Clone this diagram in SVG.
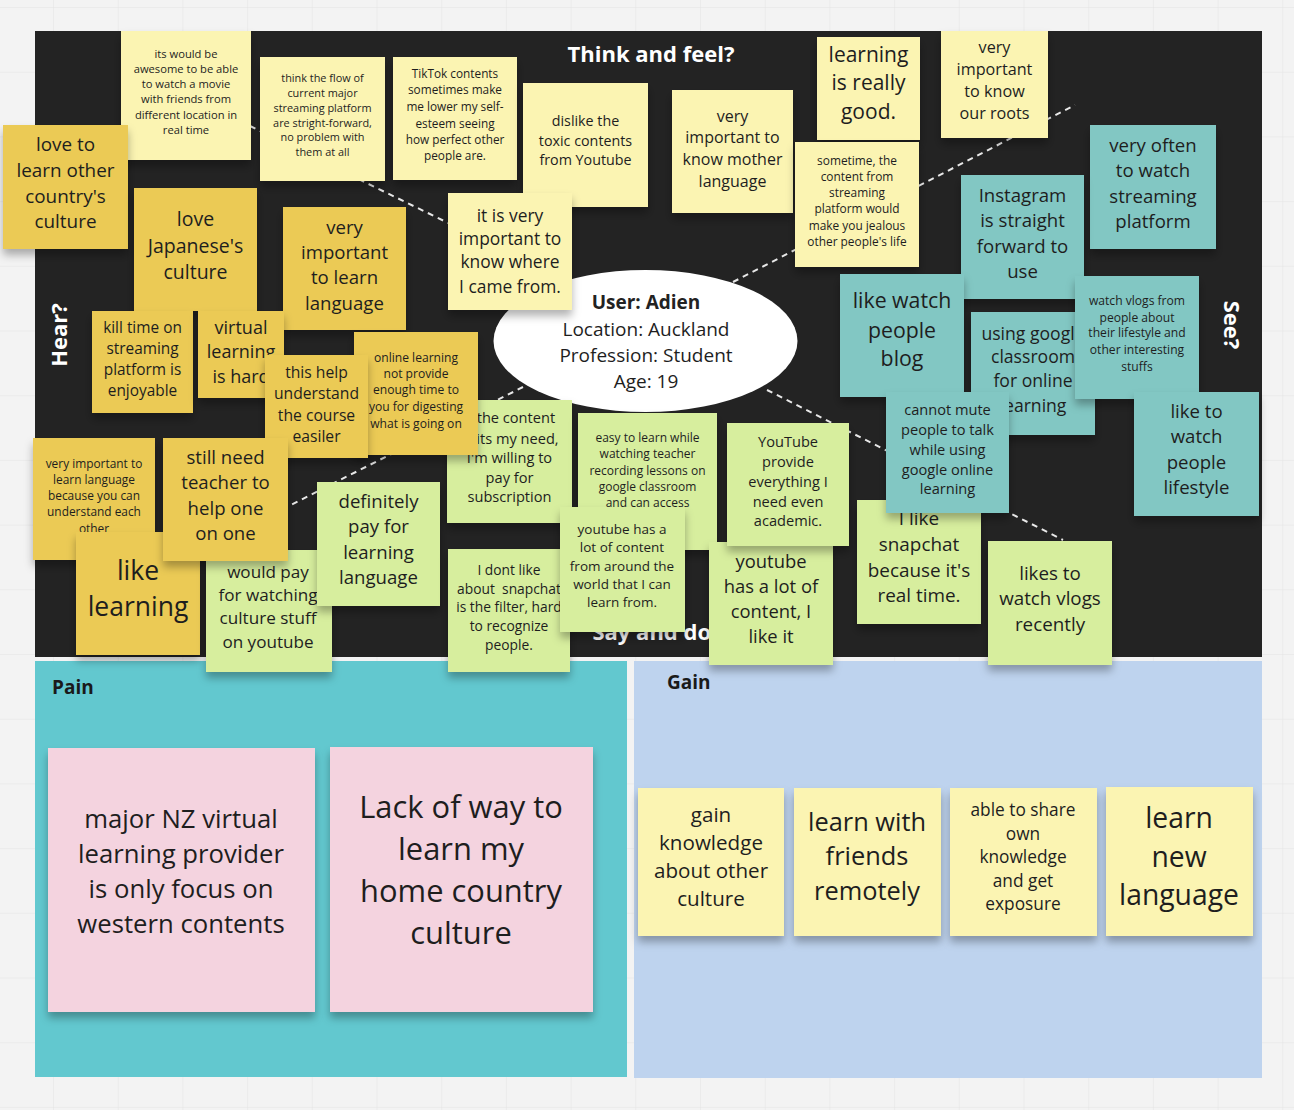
<svg xmlns="http://www.w3.org/2000/svg" width="1294" height="1110" viewBox="0 0 1294 1110">
<defs>
<pattern id="grid" x="53" y="7" width="64.7" height="64.7" patternUnits="userSpaceOnUse">
<path d="M0 0H64.7M0 0V64.7" fill="none" stroke="#e4e4e4" stroke-width="1"/>
</pattern>
<filter id="sh" x="-20%" y="-20%" width="140%" height="150%">
<feDropShadow dx="0" dy="6" stdDeviation="4" flood-color="#000" flood-opacity="0.3"/>
</filter>
</defs>
<style>
.t{font-family:"Open Sans","Noto Sans","Liberation Sans",sans-serif;fill:#1e1e1e;text-anchor:middle}
.lbl{font-family:"Open Sans","Noto Sans","Liberation Sans",sans-serif;font-weight:bold;fill:#ffffff;font-size:22px}
.hd{font-family:"Open Sans","Noto Sans","Liberation Sans",sans-serif;font-weight:bold;fill:#1a1a1a;font-size:19px}
.s{filter:url(#sh)}
.ly{fill:#fbf4b2}
.gd{fill:#ebca55}
.gr{fill:#d7ee9e}
.tl{fill:#82c7c3}
.pk{fill:#f4d3df}
.cn{stroke:#e8e8e8;stroke-width:2;stroke-dasharray:6 5;fill:none}
</style>
<rect x="0" y="0" width="1294" height="1110" fill="#f3f3f3"/>
<rect x="0" y="0" width="1294" height="1110" fill="url(#grid)"/>
<g id="panels">
<rect x="35" y="31" width="1227" height="626" fill="#232323"/>
<rect x="35" y="661" width="592" height="416" fill="#62c8cf"/>
<rect x="634" y="661" width="628" height="417" fill="#bed3ee"/>
</g>
<g id="labels">
<text class="lbl" x="651" y="62" text-anchor="middle">Think and feel?</text>
<text class="lbl" transform="translate(67,335) rotate(-90)" text-anchor="middle">Hear?</text>
<text class="lbl" transform="translate(1224,325) rotate(90)" text-anchor="middle">See?</text>
<text class="lbl" x="657" y="640" text-anchor="middle">Say and do?</text>
<text class="hd" x="52" y="694">Pain</text>
<text class="hd" x="667" y="689">Gain</text>
</g>
<g id="connectors">
<line class="cn" x1="250" y1="126" x2="530" y2="263"/>
<line class="cn" x1="733" y1="282" x2="1075" y2="105"/>
<line class="cn" x1="523" y1="387" x2="285" y2="508"/>
<line class="cn" x1="767" y1="390" x2="1063" y2="540"/>
</g>
<g id="user">
<ellipse cx="645.5" cy="341" rx="152" ry="71" fill="#ffffff"/>
<text class="t" font-size="19" fill="#333"><tspan x="646" y="309" font-weight="bold" fill="#222">User: Adien</tspan><tspan x="646" y="336">Location: Auckland</tspan><tspan x="646" y="362">Profession: Student</tspan><tspan x="646" y="388">Age: 19</tspan></text>
</g>
<g id="n1"><rect class="s ly" x="121" y="31" width="130" height="129"/><text class="t" font-size="11.2"><tspan x="186" y="58.4">its would be</tspan><tspan x="186" y="73.4">awesome to be able</tspan><tspan x="186" y="88.4">to watch a movie</tspan><tspan x="186" y="103.4">with friends from</tspan><tspan x="186" y="119.4">different location in</tspan><tspan x="186" y="134.4">real time</tspan></text></g>
<g id="n2"><rect class="s ly" x="260" y="57" width="125" height="124"/><text class="t" font-size="10.9"><tspan x="322.5" y="82">think the flow of</tspan><tspan x="322.5" y="97">current major</tspan><tspan x="322.5" y="112">streaming platform</tspan><tspan x="322.5" y="127">are stright-forward,</tspan><tspan x="322.5" y="141">no problem with</tspan><tspan x="322.5" y="156">them at all</tspan></text></g>
<g id="n3"><rect class="s ly" x="393" y="57" width="124" height="123"/><text class="t" font-size="11.8"><tspan x="455" y="77.5">TikTok contents</tspan><tspan x="455" y="93.5">sometimes make</tspan><tspan x="455" y="110.5">me lower my self-</tspan><tspan x="455" y="127.5">esteem seeing</tspan><tspan x="455" y="143.5">how perfect other</tspan><tspan x="455" y="159.5">people are.</tspan></text></g>
<g id="n4"><rect class="s ly" x="523" y="83" width="125" height="124"/><text class="t" font-size="14.3"><tspan x="585.5" y="126">dislike the</tspan><tspan x="585.5" y="146">toxic contents</tspan><tspan x="585.5" y="165">from Youtube</tspan></text></g>
<g id="n5"><rect class="s ly" x="672" y="90" width="121" height="123"/><text class="t" font-size="16"><tspan x="732.5" y="122">very</tspan><tspan x="732.5" y="143">important to</tspan><tspan x="732.5" y="165">know mother</tspan><tspan x="732.5" y="187">language</tspan></text></g>
<g id="n6"><rect class="s ly" x="448" y="193" width="124" height="117"/><text class="t" font-size="17.4"><tspan x="510" y="222">it is very</tspan><tspan x="510" y="245">important to</tspan><tspan x="510" y="268">know where</tspan><tspan x="510" y="293">I came from.</tspan></text></g>
<g id="n7"><rect class="s ly" x="817" y="37" width="103" height="103"/><text class="t" font-size="21"><tspan x="868.5" y="62">learning</tspan><tspan x="868.5" y="90">is really</tspan><tspan x="868.5" y="119">good.</tspan></text></g>
<g id="n8"><rect class="s ly" x="941" y="31" width="107" height="107"/><text class="t" font-size="16.2"><tspan x="994.5" y="53">very</tspan><tspan x="994.5" y="75">important</tspan><tspan x="994.5" y="97">to know</tspan><tspan x="994.5" y="119">our roots</tspan></text></g>
<g id="n9"><rect class="s ly" x="795" y="142" width="124" height="125"/><text class="t" font-size="11.9"><tspan x="857" y="164.5">sometime, the</tspan><tspan x="857" y="180.5">content from</tspan><tspan x="857" y="196.5">streaming</tspan><tspan x="857" y="212.5">platform would</tspan><tspan x="857" y="229.5">make you jealous</tspan><tspan x="857" y="245.5">other people's life</tspan></text></g>
<g id="n10"><rect class="s tl" x="1090" y="125" width="126" height="124"/><text class="t" font-size="18.6"><tspan x="1153" y="151.5">very often</tspan><tspan x="1153" y="176.5">to watch</tspan><tspan x="1153" y="202.5">streaming</tspan><tspan x="1153" y="227.5">platform</tspan></text></g>
<g id="n11"><rect class="s tl" x="961" y="175" width="123" height="124"/><text class="t" font-size="18.6"><tspan x="1022.5" y="201.5">Instagram</tspan><tspan x="1022.5" y="226.5">is straight</tspan><tspan x="1022.5" y="252.5">forward to</tspan><tspan x="1022.5" y="277.5">use</tspan></text></g>
<g id="n12"><rect class="s tl" x="840" y="274" width="124" height="123"/><text class="t" font-size="21.3"><tspan x="902" y="308">like watch</tspan><tspan x="902" y="338">people</tspan><tspan x="902" y="366">blog</tspan></text></g>
<g id="n13"><rect class="s tl" x="971" y="312" width="124" height="123"/><text class="t" font-size="17.6"><tspan x="1033" y="340">using google</tspan><tspan x="1033" y="363">classroom</tspan><tspan x="1033" y="387">for online</tspan><tspan x="1033" y="412">learning</tspan></text></g>
<g id="n14"><rect class="s tl" x="1075" y="276" width="124" height="123"/><text class="t" font-size="12.1"><tspan x="1137" y="304.5">watch vlogs from</tspan><tspan x="1137" y="321.5">people about</tspan><tspan x="1137" y="336.5">their lifestyle and</tspan><tspan x="1137" y="353.5">other interesting</tspan><tspan x="1137" y="370.5">stuffs</tspan></text></g>
<g id="n16"><rect class="s tl" x="1134" y="392" width="125" height="124"/><text class="t" font-size="18.6"><tspan x="1196.5" y="417.5">like to</tspan><tspan x="1196.5" y="442.5">watch</tspan><tspan x="1196.5" y="468.5">people</tspan><tspan x="1196.5" y="493.5">lifestyle</tspan></text></g>
<g id="n35"><rect class="s gr" x="857" y="500" width="124" height="124"/><text class="t" font-size="18.9"><tspan x="919" y="524.5">I like</tspan><tspan x="919" y="550.5">snapchat</tspan><tspan x="919" y="576.5">because it's</tspan><tspan x="919" y="601.5">real time.</tspan></text></g>
<g id="n15"><rect class="s tl" x="886" y="392" width="123" height="121"/><text class="t" font-size="14.6"><tspan x="947.5" y="414.5">cannot mute</tspan><tspan x="947.5" y="434.5">people to talk</tspan><tspan x="947.5" y="454.5">while using</tspan><tspan x="947.5" y="474.5">google online</tspan><tspan x="947.5" y="493.5">learning</tspan></text></g>
<g id="n36"><rect class="s gr" x="988" y="541" width="124" height="124"/><text class="t" font-size="18.8"><tspan x="1050" y="579.5">likes to</tspan><tspan x="1050" y="604.5">watch vlogs</tspan><tspan x="1050" y="630.5">recently</tspan></text></g>
<g id="n17"><rect class="s gd" x="3" y="125" width="125" height="124"/><text class="t" font-size="18.9"><tspan x="65.5" y="150.5">love to</tspan><tspan x="65.5" y="176.5">learn other</tspan><tspan x="65.5" y="202.5">country's</tspan><tspan x="65.5" y="227.5">culture</tspan></text></g>
<g id="n18"><rect class="s gd" x="134" y="188" width="123" height="123"/><text class="t" font-size="19.5"><tspan x="195.5" y="226">love</tspan><tspan x="195.5" y="253">Japanese's</tspan><tspan x="195.5" y="279">culture</tspan></text></g>
<g id="n19"><rect class="s gd" x="283" y="207" width="123" height="123"/><text class="t" font-size="18.6"><tspan x="344.5" y="233.5">very</tspan><tspan x="344.5" y="258.5">important</tspan><tspan x="344.5" y="283.5">to learn</tspan><tspan x="344.5" y="309.5">language</tspan></text></g>
<g id="n20"><rect class="s gd" x="92" y="311" width="101" height="102"/><text class="t" font-size="15.4"><tspan x="142.5" y="332.5">kill time on</tspan><tspan x="142.5" y="353.5">streaming</tspan><tspan x="142.5" y="374.5">platform is</tspan><tspan x="142.5" y="395.5">enjoyable</tspan></text></g>
<g id="n21"><rect class="s gd" x="198" y="311" width="86" height="87"/><text class="t" font-size="18"><tspan x="241" y="333.5">virtual</tspan><tspan x="241" y="357.5">learning</tspan><tspan x="241" y="382.5">is hard</tspan></text></g>
<g id="n29"><rect class="s gr" x="447" y="400" width="125" height="123"/><text class="t" font-size="14.6"><tspan x="509.5" y="422.5">If the content</tspan><tspan x="509.5" y="443.5">suits my need,</tspan><tspan x="509.5" y="462.5">I'm willing to</tspan><tspan x="509.5" y="482.5">pay for</tspan><tspan x="509.5" y="501.5">subscription</tspan></text></g>
<g id="n23"><rect class="s gd" x="354" y="332" width="124" height="123"/><text class="t" font-size="12.1"><tspan x="416" y="361.5">online learning</tspan><tspan x="416" y="377.5">not provide</tspan><tspan x="416" y="393.5">enough time to</tspan><tspan x="416" y="410.5">you for digesting</tspan><tspan x="416" y="427.5">what is going on</tspan></text></g>
<g id="n22"><rect class="s gd" x="265" y="355" width="103" height="103"/><text class="t" font-size="15.7"><tspan x="316.5" y="378">this help</tspan><tspan x="316.5" y="399">understand</tspan><tspan x="316.5" y="421">the course</tspan><tspan x="316.5" y="442">easiler</tspan></text></g>
<g id="n24"><rect class="s gd" x="33" y="438" width="122" height="122"/><text class="t" font-size="11.9"><tspan x="94" y="467.5">very important to</tspan><tspan x="94" y="483.5">learn language</tspan><tspan x="94" y="499.5">because you can</tspan><tspan x="94" y="515.5">understand each</tspan><tspan x="94" y="532.5">other</tspan></text></g>
<g id="n26"><rect class="s gd" x="76" y="532" width="124" height="123"/><text class="t" font-size="26.5"><tspan x="138" y="580">like</tspan><tspan x="138" y="616">learning</tspan></text></g>
<g id="n27"><rect class="s gr" x="206" y="550" width="126" height="122"/><text class="t" font-size="17.1"><tspan x="268" y="578">would pay</tspan><tspan x="268" y="601">for watching</tspan><tspan x="268" y="624">culture stuff</tspan><tspan x="268" y="648">on youtube</tspan></text></g>
<g id="n25"><rect class="s gd" x="163" y="438" width="125" height="123"/><text class="t" font-size="18.6"><tspan x="225.5" y="463.5">still need</tspan><tspan x="225.5" y="488.5">teacher to</tspan><tspan x="225.5" y="514.5">help one</tspan><tspan x="225.5" y="539.5">on one</tspan></text></g>
<g id="n28"><rect class="s gr" x="317" y="482" width="123" height="124"/><text class="t" font-size="18.6"><tspan x="378.5" y="507.5">definitely</tspan><tspan x="378.5" y="532.5">pay for</tspan><tspan x="378.5" y="558.5">learning</tspan><tspan x="378.5" y="583.5">language</tspan></text></g>
<g id="n30"><rect class="s gr" x="578" y="413" width="139" height="137"/><text class="t" font-size="12"><tspan x="647.5" y="441.5">easy to learn while</tspan><tspan x="647.5" y="457.5">watching teacher</tspan><tspan x="647.5" y="474.5">recording lessons on</tspan><tspan x="647.5" y="490.5">google classroom</tspan><tspan x="647.5" y="506.5">and can access</tspan></text></g>
<g id="n34"><rect class="s gr" x="709" y="542" width="124" height="123"/><text class="t" font-size="18.4"><tspan x="771" y="567.5">youtube</tspan><tspan x="771" y="592.5">has a lot of</tspan><tspan x="771" y="617.5">content, I</tspan><tspan x="771" y="642.5">like it</tspan></text></g>
<g id="n31"><rect class="s gr" x="727" y="423" width="122" height="123"/><text class="t" font-size="14.6"><tspan x="788" y="446.5">YouTube</tspan><tspan x="788" y="466.5">provide</tspan><tspan x="788" y="486.5">everything I</tspan><tspan x="788" y="506.5">need even</tspan><tspan x="788" y="525.5">academic.</tspan></text></g>
<g id="n33"><rect class="s gr" x="448" y="549" width="122" height="123"/><text class="t" font-size="13.8" xml:space="preserve"><tspan x="509" y="575">I dont like</tspan><tspan x="509" y="594">about  snapchat</tspan><tspan x="509" y="612">is the filter, hard</tspan><tspan x="509" y="631">to recognize</tspan><tspan x="509" y="650">people.</tspan></text></g>
<g id="n32"><rect class="s gr" x="560" y="507" width="125" height="125"/><text class="t" font-size="13.5"><tspan x="622" y="534">youtube has a</tspan><tspan x="622" y="552">lot of content</tspan><tspan x="622" y="571">from around the</tspan><tspan x="622" y="589">world that I can</tspan><tspan x="622" y="607">learn from.</tspan></text></g>
<g id="p1"><rect class="s pk" x="48" y="748" width="267" height="264"/><text class="t" font-size="25.7"><tspan x="181" y="828">major NZ virtual</tspan><tspan x="181" y="863">learning provider</tspan><tspan x="181" y="898">is only focus on</tspan><tspan x="181" y="933">western contents</tspan></text></g>
<g id="p2"><rect class="s pk" x="330" y="747" width="263" height="265"/><text class="t" font-size="30.9"><tspan x="461" y="818">Lack of way to</tspan><tspan x="461" y="860">learn my</tspan><tspan x="461" y="902">home country</tspan><tspan x="461" y="944">culture</tspan></text></g>
<g id="g1"><rect class="s ly" x="638" y="788" width="146" height="148"/><text class="t" font-size="20.6"><tspan x="711" y="822">gain</tspan><tspan x="711" y="850">knowledge</tspan><tspan x="711" y="878">about other</tspan><tspan x="711" y="906">culture</tspan></text></g>
<g id="g2"><rect class="s ly" x="794" y="788" width="147" height="148"/><text class="t" font-size="25.4"><tspan x="867" y="831">learn with</tspan><tspan x="867" y="865">friends</tspan><tspan x="867" y="900">remotely</tspan></text></g>
<g id="g3"><rect class="s ly" x="950" y="788" width="147" height="148"/><text class="t" font-size="17.3"><tspan x="1023" y="816">able to share</tspan><tspan x="1023" y="840">own</tspan><tspan x="1023" y="863">knowledge</tspan><tspan x="1023" y="887">and get</tspan><tspan x="1023" y="910">exposure</tspan></text></g>
<g id="g4"><rect class="s ly" x="1106" y="787" width="147" height="149"/><text class="t" font-size="28.3"><tspan x="1179" y="827.5">learn</tspan><tspan x="1179" y="866.5">new</tspan><tspan x="1179" y="904.5">language</tspan></text></g>
</svg>
